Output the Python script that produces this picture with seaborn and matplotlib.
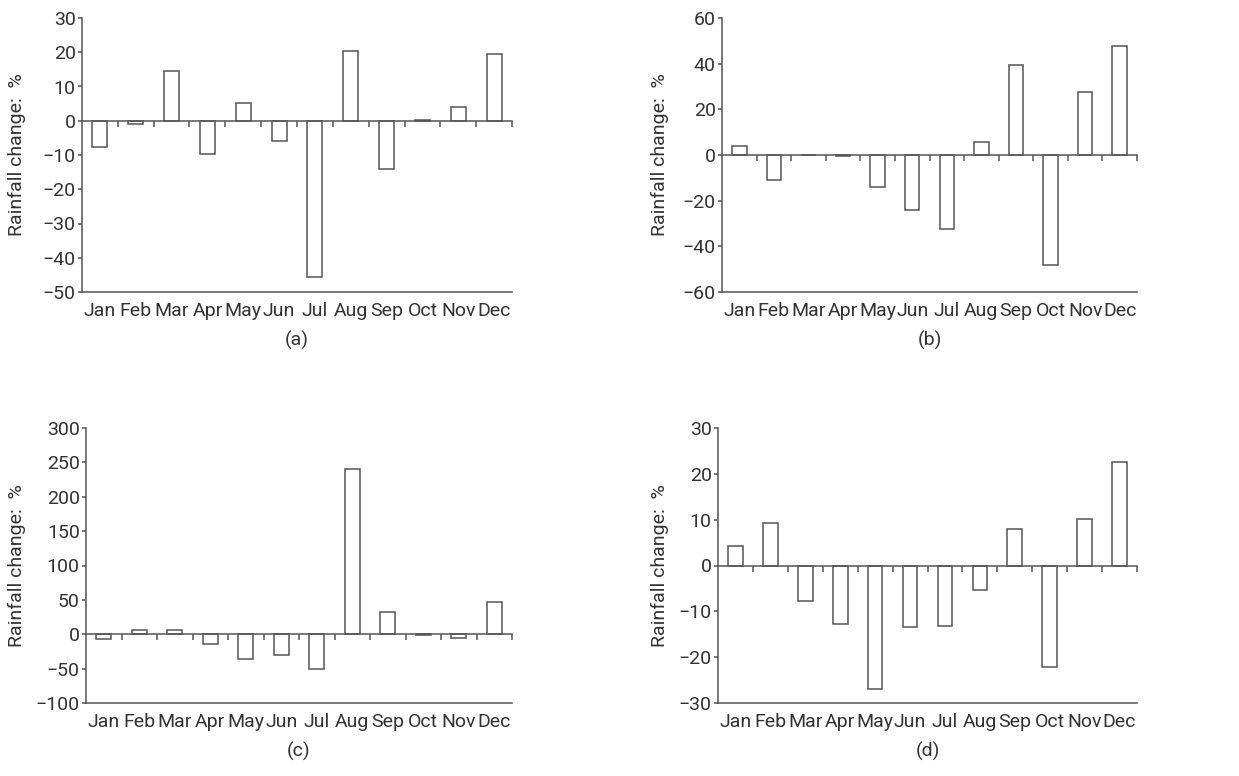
import numpy as np
import pandas as pd
import matplotlib
matplotlib.use('Agg')
import matplotlib.pyplot as plt
import seaborn as sns

sns.set_style('white')
plt.rcParams['font.family'] = ['Roboto', 'Open Sans', 'DejaVu Sans']

# Monthly rainfall change (%)
months = ['Jan', 'Feb', 'Mar', 'Apr', 'May', 'Jun',
          'Jul', 'Aug', 'Sep', 'Oct', 'Nov', 'Dec']
change_a = [-7.6, -0.9, 14.6, -9.8, 5.2, -6.0, -45.6, 20.5, -14.1, 0.3, 3.9, 19.5]
change_b = [3.8, -11.1, 0.0, -0.3, -14.0, -24.3, -32.6, 5.5, 39.2, -48.1, 27.5, 47.8]
change_c = [-6.3, 6.8, 6.3, -14.0, -35.4, -30.0, -50.4, 240.0, 32.5, -1.5, -5.8, 47.0]
change_d = [4.3, 9.3, -7.7, -12.8, -27.0, -13.4, -13.2, -5.3, 7.9, -22.2, 10.2, 22.5]

y_ticks_a = np.arange(-50, 31, 10)
y_ticks_b = np.arange(-60, 61, 20)
y_ticks_c = np.arange(-100, 301, 50)
y_ticks_d = np.arange(-30, 31, 10)

panels = [
    ('(a)', change_a, y_ticks_a, [82, 18, 512, 292], 17),
    ('(b)', change_b, y_ticks_b, [722, 18, 1137, 292], 660),
    ('(c)', change_c, y_ticks_c, [86, 428, 512, 703], 17),
    ('(d)', change_d, y_ticks_d, [718, 428, 1137, 703], 660),
]

W, H = 1239, 776
line_col = '#555555'
text_col = '#333333'
fs = 14

fig = plt.figure(figsize=(W / 100, H / 100), dpi=100)

for tag, vals, yt, box, ylab_x in panels:
    x0, y0, x1, y1 = box
    ax = fig.add_axes([x0 / W, 1 - y1 / H, (x1 - x0) / W, (y1 - y0) / H])
    df = pd.DataFrame({'Month': months, 'Change': vals})
    sns.barplot(data=df, x='Month', y='Change', color='white', saturation=1,
                edgecolor=line_col, linewidth=1.1, width=0.42, ax=ax)

    ax.set_xlim(-0.5, 11.5)
    ax.set_ylim(yt[0], yt[-1])
    ax.set_yticks(yt)
    ax.set_xlabel('')
    ax.set_ylabel('')

    # zero line carried by the top spine, with ticks between months
    ax.spines['top'].set_position(('data', 0))
    ax.spines['right'].set_visible(False)
    for s in ['top', 'left', 'bottom']:
        ax.spines[s].set_color(line_col)
        ax.spines[s].set_linewidth(1.1)
    ax.set_xticks(np.arange(0.5, 12, 1), minor=True)
    ax.tick_params(axis='x', which='major', bottom=False, top=False,
                   labelsize=fs, colors=text_col, pad=4)
    ax.tick_params(axis='x', which='minor', bottom=False, top=True,
                   direction='in', length=4, width=1.1, color=line_col)
    ax.tick_params(axis='y', which='major', left=True, direction='out',
                   length=3, width=1.1, color=line_col, labelsize=fs,
                   labelcolor=text_col, pad=1.5)

    cy = 1 - (y0 + y1) / 2 / H
    fig.text(ylab_x / W, cy, 'Rainfall change:  %', rotation=90,
             ha='center', va='center', fontsize=fs, color=text_col)
    fig.text((x0 + x1) / 2 / W, 1 - (y1 + 48) / H, tag,
             ha='center', va='center', fontsize=fs, color=text_col)

fig.savefig('out.png', dpi=100)
